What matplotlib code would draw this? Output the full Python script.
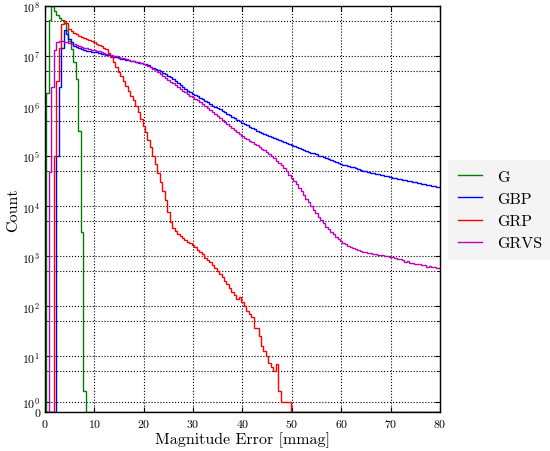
import numpy as np
import matplotlib
matplotlib.use('Agg')
import matplotlib.pyplot as plt

plt.rcParams['font.family'] = ['cmr10', 'DejaVu Serif']
plt.rcParams['mathtext.fontset'] = 'cm'
plt.rcParams['axes.formatter.use_mathtext'] = True

# bins of 0.5 mmag, centred on 0.5, 1.0, ... 80.0
bin_edges = np.arange(0.25, 80.3, 0.5)

g_counts = [1.8e6, 5.2e7, 9.7e7, 8.0e7, 6.5e7, 5.6e7, 5.1e7, 4.6e7, 3.3e7, 2.0e7,
            1.36e7, 7.6e6, 3.4e6, 3.2e5, 3.0e3, 2] + [0] * 144

gbp_counts = [0, 0, 0, 0, 1e5, 2.4e6, 1.4e7, 3.2e7, 2.7e7, 2.2e7,
              1.9e7, 1.6e7, 1.5e7, 1.42e7, 1.36e7, 1.31e7, 1.27e7, 1.24e7, 1.21e7, 1.18e7,
              # 10.5 - 80
              1.17e7, 1.14e7, 1.11e7, 1.08e7, 1.05e7, 1.02e7, 9.9e6, 9.6e6, 9.3e6, 9.0e6,
              8.8e6, 8.6e6, 8.4e6, 8.2e6, 7.9e6, 7.7e6, 7.5e6, 7.3e6, 7.1e6, 6.9e6,
              6.7e6, 6.4e6, 6.1e6, 5.8e6, 5.5e6, 5.2e6, 4.9e6, 4.6e6, 4.3e6, 4.0e6,
              3.7e6, 3.4e6, 3.1e6, 2.8e6, 2.6e6, 2.4e6, 2.2e6, 2.0e6, 1.85e6, 1.75e6,
              1.65e6, 1.55e6, 1.45e6, 1.35e6, 1.26e6, 1.17e6, 1.09e6, 1.01e6, 9.5e5, 9.0e5,
              8.5e5, 8.0e5, 7.5e5, 7.0e5, 6.5e5, 6.0e5, 5.6e5, 5.2e5, 4.9e5, 4.6e5,
              4.4e5, 4.1e5, 3.8e5, 3.6e5, 3.4e5, 3.2e5, 3.0e5, 2.85e5, 2.7e5, 2.6e5,
              2.5e5, 2.4e5, 2.3e5, 2.2e5, 2.1e5, 2.0e5, 1.9e5, 1.8e5, 1.7e5, 1.65e5,
              1.6e5, 1.53e5, 1.46e5, 1.4e5, 1.34e5, 1.28e5, 1.22e5, 1.17e5, 1.12e5, 1.07e5,
              1.02e5, 9.8e4, 9.4e4, 9.0e4, 8.6e4, 8.2e4, 7.9e4, 7.6e4, 7.3e4, 7.0e4,
              6.7e4, 6.5e4, 6.3e4, 6.1e4, 5.9e4, 5.7e4, 5.5e4, 5.3e4, 5.1e4, 4.95e4,
              4.8e4, 4.65e4, 4.5e4, 4.4e4, 4.3e4, 4.2e4, 4.1e4, 4.0e4, 3.9e4, 3.8e4,
              3.7e4, 3.6e4, 3.5e4, 3.4e4, 3.35e4, 3.3e4, 3.2e4, 3.1e4, 3.05e4, 3.0e4,
              2.9e4, 2.85e4, 2.8e4, 2.7e4, 2.65e4, 2.6e4, 2.55e4, 2.5e4, 2.45e4, 2.4e4]

grp_counts = [0, 0, 0, 1e5, 3.2e6, 1.4e7, 4.3e7, 5.0e7, 4.6e7, 3.4e7,
              3.1e7, 2.9e7, 2.7e7, 2.5e7, 2.4e7, 2.3e7, 2.2e7, 2.1e7, 1.95e7, 1.85e7,
              # 10.5 - 80
              1.75e7, 1.65e7, 1.55e7, 1.45e7, 1.36e7, 1.15e7, 9.3e6, 7.4e6, 5.9e6, 4.8e6,
              3.9e6, 3.1e6, 2.5e6, 2.0e6, 1.6e6, 1.3e6, 1.0e6, 7.5e5, 5.5e5, 4.0e5,
              3.0e5, 2.1e5, 1.5e5, 1.0e5, 6.8e4, 4.5e4, 3.0e4, 2.0e4, 1.3e4, 7.5e3,
              4.8e3, 3.6e3, 3.1e3, 2.8e3, 2.5e3, 2.3e3, 2.1e3, 1.95e3, 1.8e3, 1.65e3,
              1.5e3, 1.35e3, 1.22e3, 1.08e3, 9.3e2, 8.3e2, 7.5e2, 6.6e2, 5.9e2, 5.1e2,
              4.4e2, 3.8e2, 3.2e2, 2.8e2, 2.3e2, 1.95e2, 1.65e2, 1.36e2, 1.5e2, 1.2e2,
              1.0e2, 80, 70, 62, 37, 37, 25, 16, 13, 10,
              7.5, 6, 5, 7, 2, 1, 1, 1, 1, 0] + [0] * 60

grvs_counts = [0, 4.7e4, 2.4e6, 1.3e7, 1.9e7, 2.0e7, 1.95e7, 1.9e7, 1.85e7, 1.8e7,
               1.75e7, 1.7e7, 1.62e7, 1.56e7, 1.5e7, 1.45e7, 1.4e7, 1.36e7, 1.32e7, 1.29e7,
               # 10.5 - 80
               1.26e7, 1.22e7, 1.18e7, 1.14e7, 1.1e7, 1.07e7, 1.04e7, 1.01e7, 9.8e6, 9.5e6,
               9.2e6, 8.9e6, 8.6e6, 8.3e6, 8.0e6, 7.8e6, 7.6e6, 7.4e6, 7.1e6, 6.8e6,
               6.5e6, 6.2e6, 5.9e6, 5.5e6, 5.1e6, 4.7e6, 4.3e6, 4.0e6, 3.6e6, 3.3e6,
               3.0e6, 2.8e6, 2.6e6, 2.4e6, 2.2e6, 2.0e6, 1.85e6, 1.7e6, 1.6e6, 1.5e6,
               1.4e6, 1.3e6, 1.2e6, 1.1e6, 1.0e6, 9.2e5, 8.4e5, 7.6e5, 6.9e5, 6.2e5,
               5.7e5, 5.2e5, 4.7e5, 4.3e5, 3.9e5, 3.6e5, 3.3e5, 3.0e5, 2.7e5, 2.45e5,
               2.3e5, 2.15e5, 2.0e5, 1.87e5, 1.75e5, 1.62e5, 1.5e5, 1.4e5, 1.3e5, 1.2e5,
               1.1e5, 1.0e5, 9.0e4, 8.1e4, 7.3e4, 6.5e4, 5.7e4, 4.9e4, 4.2e4, 3.6e4,
               3.1e4, 2.7e4, 2.3e4, 1.95e4, 1.65e4, 1.4e4, 1.2e4, 1.0e4, 8.5e3, 7.2e3,
               6.1e3, 5.2e3, 4.5e3, 3.9e3, 3.4e3, 3.0e3, 2.7e3, 2.4e3, 2.2e3, 2.0e3,
               1.85e3, 1.72e3, 1.6e3, 1.5e3, 1.42e3, 1.36e3, 1.3e3, 1.26e3, 1.22e3, 1.19e3,
               1.16e3, 1.13e3, 1.11e3, 1.09e3, 1.07e3, 1.05e3, 1.03e3, 1.01e3, 990, 970,
               950, 920, 860, 880, 820, 780, 800, 740, 720, 700,
               690, 680, 660, 650, 620, 630, 610, 600, 590, 590]

series = [('G', g_counts, (0, 0.5, 0)),
          ('GBP', gbp_counts, (0, 0, 1)),
          ('GRP', grp_counts, (1, 0, 0)),
          ('GRVS', grvs_counts, (0.75, 0, 0.75))]

fig = plt.figure(figsize=(5.5, 4.52), dpi=100)
ax = fig.add_axes([0.0818, 0.0856, 0.7182, 0.8996])

for name, counts, col in series:
    ax.stairs(counts, bin_edges, baseline=0, color=col, linewidth=1.0, label=name)

ax.set_yscale('symlog', linthresh=2, linscale=0.378)
ax.set_ylim(0, 1e8)
ax.set_xlim(0, 80)

yticks = [0] + [10 ** n for n in range(0, 9)]
ylabels = ['0'] + [r'$10^{%d}$' % n for n in range(0, 9)]
ax.set_yticks(yticks, ylabels)
ax.set_yticks([5 * 10 ** n for n in range(0, 8)], minor=True)
ax.set_xticks(np.arange(0, 81, 10))

ax.tick_params(which='both', direction='in', top=True, right=True, labelsize=8.5)
ax.tick_params(which='minor', length=2)
ax.grid(True, which='both', color='k', linestyle=':', linewidth=0.8)
ax.set_axisbelow(True)
for sp in ax.spines.values():
    sp.set_linewidth(1.0)

ax.set_xlabel('Magnitude Error [mmag]', fontsize=11.5, labelpad=1.5)
ax.set_ylabel('Count', fontsize=11.5, labelpad=1.5)

leg = ax.legend(loc='upper left', bbox_to_anchor=(448 / 550, 1 - 161 / 452),
                bbox_transform=fig.transFigure, fontsize=11.5, frameon=True,
                fancybox=False, borderaxespad=0, labelspacing=0.5,
                handlelength=1.5, borderpad=0.6, handletextpad=1.0)
leg.get_frame().set_facecolor('#f2f2f2')
leg.get_frame().set_edgecolor('none')

fig.savefig('out.png', dpi=100)
